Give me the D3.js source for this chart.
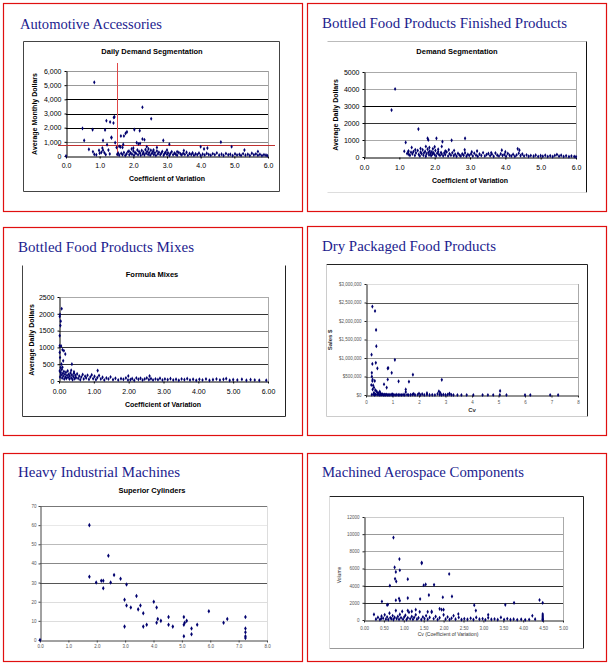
<!DOCTYPE html>
<html>
<head>
<meta charset="utf-8">
<script src="https://d3js.org/d3.v7.min.js"></script>
<style>
  body { margin: 0; background: #fff; }
  svg { display: block; }
</style>
</head>
<body>
<script>
// ---- data: [coefficient of variation, value] ----

var autoTitle = "Automotive Accessories";
var autoXTicks = [0, 1, 2, 3, 4, 5, 6];
var autoYTicks = [0, 1000, 2000, 3000, 4000, 5000, 6000];
var autoCvCut = 1.5;
var autoValueCut = 780;
var autoPoints = [
  [0.84,5200],[2.27,3440],[2.53,2630],[0.49,1950],[0.79,1860],[1.16,1840],[1.2,2490],[1.31,2400],
  [1.42,2720],[1.44,2760],[1.41,2330],[0.54,1100],[1.1,1100],[1.35,1320],[1.35,1280],[1.63,1410],
  [1.72,1410],[1.77,1600],[1.81,1700],[2.03,1860],[2.19,1790],[2.27,1200],[2.33,1150],[2.89,1100],
  [3.07,830],[4.6,980],[4.92,650],[1.46,940],[0.68,470],[0,0],[1.1,400],[1.08,560],[0.8,300],
  [0.84,120],[0.98,400],[1.05,260],[4.0,650],[4.1,500],[4.2,560],[2.1,940],[2.15,850],[2.2,880],
  [1.5,600],[1.22,800],[1.55,200],[1.62,640],[1.7,820],[1.95,500],[2.0,560],[1.26,420],[1.3,150],
  [0.9,80],[1.0,200],[1.14,230],[1.18,100],[1.87,340],[2.4,650],[2.45,500],[2.6,420],[2.7,600],
  [3.0,420],[3.5,380],[3.3,300],[5.3,420],[5.7,320],[1.68,600],[1.58,680]
];
var autoBand = [
  [1.52,120],[1.58,60],[1.64,180],[1.68,90],[1.72,240],[1.76,40],[1.8,150],[1.84,300],[1.88,80],
  [1.92,220],[1.96,130],[2.0,360],[2.02,60],[2.05,250],[2.08,170],[2.12,420],[2.14,90],[2.17,310],
  [2.2,200],[2.22,50],[2.25,380],[2.28,140],[2.3,260],[2.33,80],[2.36,450],[2.38,190],[2.41,320],
  [2.44,110],[2.47,240],[2.5,60],[2.52,400],[2.55,170],[2.58,290],[2.61,100],[2.64,230],[2.67,40],
  [2.7,350],[2.73,150],[2.76,260],[2.8,90],[2.83,200],[2.86,320],[2.9,60],[2.93,180],[2.96,260],
  [3.0,110],[3.03,220],[3.07,40],[3.1,170],[3.14,300],[3.18,90],[3.22,200],[3.26,130],[3.3,60],
  [3.35,240],[3.4,150],[3.44,80],[3.48,190],[3.53,110],[3.58,260],[3.62,50],[3.67,170],[3.72,100],
  [3.76,220],[3.8,60],[3.85,150],[3.9,90],[3.95,200],[4.0,40],[4.06,130],[4.12,70],[4.18,180],
  [4.24,100],[4.3,50],[4.36,160],[4.42,90],[4.48,210],[4.55,60],[4.62,130],[4.68,40],[4.75,170],
  [4.82,80],[4.88,120],[4.95,30],[5.02,150],[5.08,70],[5.15,110],[5.2,40],[5.26,160],[5.33,60],
  [5.4,120],[5.46,30],[5.52,190],[5.58,80],[5.64,140],[5.7,50],[5.76,110],[5.82,30],[5.88,90],
  [5.94,60],[5.98,20]
];

var finTitle = "Bottled Food Products Finished Products";
var finXTicks = [0, 1, 2, 3, 4, 5, 6];
var finYTicks = [0, 1000, 2000, 3000, 4000, 5000];
var finPoints = [
  [0.88,4000],[0.78,2760],[1.54,1640],[1.18,860],[1.8,1100],[1.82,1000],[2.05,1100],[2.22,900],
  [2.48,980],[2.86,1100],[4.35,480],[1.14,340],[1.25,300],[1.27,150],[3.9,400],[1.35,560],
  [1.45,420],[1.6,500],[1.75,620],[1.85,560],[1.95,480],[2.0,600],[2.1,450],[2.2,620],[2.3,350],
  [2.4,420],[2.55,380],[2.85,420],[3.05,300],[3.2,350],[3.6,250],[4.0,300],[4.4,400]
];
var finBand = [
  [1.22,200],[1.26,350],[1.3,100],[1.33,280],[1.37,180],[1.4,320],[1.44,90],[1.47,240],
  [1.52,380],[1.55,150],[1.58,60],[1.6,290],[1.63,200],[1.66,420],[1.68,110],[1.7,250],[1.73,330],
  [1.75,40],[1.77,180],[1.8,460],[1.82,260],[1.84,120],[1.86,350],[1.88,200],[1.9,80],[1.92,300],
  [1.94,170],[1.97,240],[2.0,130],[2.02,380],[2.04,60],[2.07,220],[2.1,310],[2.12,150],[2.15,90],
  [2.18,260],[2.2,180],[2.24,70],[2.27,240],[2.3,130],[2.34,300],[2.38,60],[2.42,190],[2.46,110],
  [2.5,250],[2.54,80],[2.58,160],[2.62,40],[2.66,210],[2.7,120],[2.74,60],[2.78,180],[2.82,100],
  [2.86,240],[2.9,50],[2.94,150],[2.98,90],[3.03,180],[3.08,60],[3.12,220],[3.17,110],[3.22,40],
  [3.27,170],[3.32,90],[3.37,250],[3.42,60],[3.47,140],[3.52,200],[3.57,80],[3.62,160],[3.67,40],
  [3.72,230],[3.77,110],[3.82,60],[3.87,180],[3.92,90],[3.97,140],[4.02,50],[4.07,200],[4.12,100],
  [4.17,60],[4.22,150],[4.27,40],[4.32,120],[4.38,220],[4.43,80],[4.48,170],[4.53,60],[4.6,120],
  [4.66,40],[4.72,90],[4.8,50],[4.86,110],[4.93,30],[5.0,80],[5.06,40],[5.13,100],[5.2,30],
  [5.27,70],[5.34,20],[5.4,90],[5.46,140],[5.52,50],[5.58,100],[5.65,30],[5.72,70],[5.8,20],
  [5.87,60],[5.95,30],[6.0,10]
];

var mixTitle = "Bottled Food Products Mixes";
var mixXTicks = [0, 1, 2, 3, 4, 5, 6];
var mixYTicks = [0, 500, 1000, 1500, 2000, 2500];
var mixPoints = [
  [0.077,2150],[0.03,1980],[0.02,1920],[0.05,1780],[0.04,1650],[0.02,1350],[0.02,1050],[0.06,1040],
  [0.1,930],[0.14,900],[0.18,800],[0.12,600],[0.07,500],[0.1,410],[0.37,500],[1.11,310],[0.35,320],
  [0.43,270],[1.99,150],[2.6,150],[0.02,850],[0.03,700],[0.05,400]
];
var mixBand = [
  [0.02,300],[0.03,120],[0.05,250],[0.06,180],[0.08,340],[0.09,90],[0.11,220],[0.12,150],[0.14,280],
  [0.15,60],[0.17,200],[0.18,120],[0.2,260],[0.21,80],[0.23,170],[0.25,300],[0.26,110],[0.28,200],
  [0.3,60],[0.31,150],[0.33,240],[0.35,90],[0.37,180],[0.39,40],[0.41,130],[0.43,220],[0.45,70],
  [0.47,160],[0.49,100],[0.52,210],[0.55,80],[0.58,150],[0.61,40],[0.64,120],[0.68,190],[0.71,60],
  [0.75,140],[0.78,90],[0.82,170],[0.86,50],[0.9,120],[0.94,180],[0.98,70],[1.02,140],[1.06,40],
  [1.1,100],[1.15,160],[1.2,60],[1.25,110],[1.3,30],[1.36,90],[1.42,60],[1.48,120],[1.55,40],
  [1.62,80],[1.7,30],[1.78,70],[1.85,50],[1.92,90],[1.98,30],[2.05,40],[2.1,70],[2.16,20],[2.22,90],
  [2.28,50],[2.34,80],[2.4,30],[2.46,60],[2.52,90],[2.58,40],[2.64,70],[2.7,30],[2.77,60],[2.84,40],
  [2.9,80],[2.97,30],[3.04,60],[3.12,40],[3.2,70],[3.28,30],[3.36,50],[3.44,20],[3.52,60],[3.6,40],
  [3.68,70],[3.76,30],[3.85,50],[3.94,20],[4.03,50],[4.12,30],[4.22,60],[4.32,20],[4.42,40],
  [4.52,60],[4.62,30],[4.72,50],[4.8,70],[4.9,20],[5.0,40],[5.12,30],[5.25,50],[5.38,20],[5.5,40],
  [5.62,30],[5.75,20],[5.95,20]
];

var dryTitle = "Dry Packaged Food Products";
var dryXTicks = [0, 1, 2, 3, 4, 5, 6, 7, 8];
var dryYTicks = [0, 500000, 1000000, 1500000, 2000000, 2500000, 3000000];
var dryPoints = [
  [0.24,2390000],[0.34,2270000],[0.38,1760000],[0.39,1320000],[0.21,1090000],[0.24,840000],
  [0.37,870000],[0.43,720000],[0.82,720000],[0.84,730000],[1.09,950000],[0.97,600000],[1.77,550000],
  [2.86,410000],[1.62,360000],[1.23,370000],[0.22,600000],[0.22,500000],[0.24,380000],[0.33,380000],
  [0.27,260000],[0.82,420000],[0.68,290000],[0.78,200000],[5.06,110000],[1.5,150000],[1.5,80000],
  [2.75,100000],[0.25,420000],[0.2,270000],[0.3,200000],[0.35,130000],[0.4,100000],[0.45,60000],
  [0.52,90000],[0.55,40000],[0.3,60000],[0.25,150000],[0.45,30000],[0.6,20000],[2.8,60000],
  [3.15,40000],[1.8,30000],[1.0,20000],[2.0,40000],[2.3,50000]
];
var dryBand = [
  [0.22,10000],[0.28,20000],[0.32,5000],[0.36,15000],[0.42,8000],[0.46,25000],[0.5,3000],[0.54,12000],
  [0.58,6000],[0.62,18000],[0.66,2000],[0.7,9000],[0.74,4000],[0.78,14000],[0.82,1000],[0.86,7000],
  [0.9,3000],[0.95,11000],[1.0,2000],[1.05,6000],[1.1,1000],[1.16,8000],[1.22,3000],[1.28,5000],
  [1.34,1000],[1.4,9000],[1.46,2000],[1.55,6000],[1.6,1000],[1.68,4000],[1.75,12000],[1.85,2000],
  [1.95,7000],[2.05,1000],[2.12,25000],[2.2,3000],[2.3,10000],[2.4,2000],[2.5,5000],[2.6,1000],
  [2.7,30000],[2.78,8000],[2.85,3000],[2.92,14000],[3.0,2000],[3.08,9000],[3.15,25000],[3.22,4000],
  [3.3,1000],[3.45,0],[3.6,0],[3.8,0],[4.05,0],[4.4,1000],[4.6,0],[4.8,0],[5.05,2000],[5.3,0],
  [6.0,0],[6.2,0],[6.95,0],[7.25,0]
];

var heavyTitle = "Heavy Industrial Machines";
var heavyXTicks = [0, 1, 2, 3, 4, 5, 6, 7, 8];
var heavyYTicks = [0, 10, 20, 30, 40, 50, 60, 70];
var heavyPoints = [
  [0,0],[1.74,60],[1.74,33],[1.98,30],[2.16,31],[2.23,31],[2.23,27],[2.41,44],[2.49,30],[2.61,34],
  [2.84,32],[3.05,29],[2.98,21],[2.98,7],[3.05,18],[3.2,17],[3.4,23],[3.46,16],[3.54,18],[3.64,14],
  [3.64,7],[3.76,8],[4.01,20],[4.11,17],[4.11,9],[4.15,11],[4.26,10],[4.53,12],[4.53,8],[4.68,7],
  [5.07,12],[5.07,8],[5.1,9],[5.17,10],[5.07,2],[5.34,6],[5.34,3],[5.54,8],[5.95,15],[6.47,9],
  [6.6,11],[7.24,12],[7.24,6],[7.24,4],[7.24,2],[7.24,1]
];

var aeroTitle = "Machined Aerospace Components";
var aeroXTicks = [0, 0.5, 1, 1.5, 2, 2.5, 3, 3.5, 4, 4.5, 5];
var aeroYTicks = [0, 2000, 4000, 6000, 8000, 10000, 12000];
var aeroPoints = [
  [0.74,9600],[0.89,7100],[1.45,6700],[1.45,6600],[0.77,6140],[0.8,5600],[0.9,5800],[0.78,4800],
  [0.81,4500],[0.65,4000],[1.1,4760],[2.14,5360],[1.5,4050],[1.55,4150],[1.76,4100],[2.21,2750],
  [1.98,2650],[1.63,2900],[1.41,2450],[1.1,2550],[0.8,2300],[0.88,2500],[0.9,2250],[0.45,2160],
  [0.58,1750],[0.6,1800],[2.77,1730],[2.81,1100],[3.55,1770],[3.77,2000],[4.41,2330],[4.49,2000],
  [0.25,650],[0.43,150],[3.12,600],[2.37,700],[4.23,500],[1.2,1000],[1.1,1100],[2.0,1200],
  [1.9,1300],[1.6,950],[1.7,900],[1.3,1200]
];
var aeroBand = [
  [0.3,100],[0.35,300],[0.4,50],[0.44,450],[0.48,200],[0.52,600],[0.55,100],[0.58,350],[0.61,50],
  [0.64,800],[0.66,250],[0.69,150],[0.72,500],[0.74,50],[0.77,300],[0.8,1100],[0.82,150],[0.85,400],
  [0.88,80],[0.9,650],[0.93,250],[0.96,1000],[0.98,100],[1.01,350],[1.04,550],[1.07,50],[1.1,250],
  [1.13,900],[1.16,150],[1.2,400],[1.23,80],[1.26,300],[1.3,600],[1.33,100],[1.37,250],[1.4,950],
  [1.44,50],[1.48,350],[1.52,150],[1.56,500],[1.6,80],[1.65,300],[1.7,1000],[1.75,150],[1.8,400],
  [1.85,50],[1.9,250],[1.95,1200],[2.0,600],[2.05,100],[2.1,350],[2.15,50],[2.2,200],[2.25,500],
  [2.3,100],[2.38,300],[2.45,50],[2.52,150],[2.6,80],[2.68,200],[2.75,50],[2.82,300],[2.9,100],
  [2.98,150],[3.05,30],[3.12,250],[3.2,80],[3.28,120],[3.36,40],[3.44,300],[3.52,60],[3.6,150],
  [3.68,40],[3.76,100],[3.85,30],[3.95,80],[4.05,20],[4.15,60],[4.3,100],[4.49,700],[4.49,550],
  [4.49,400],[4.49,250],[4.49,150],[4.49,50],[4.49,0]
];

// ---- drawing ----
var W = 609, H = 664;
var svg = d3.select("body").append("svg").attr("width", W).attr("height", H);
var SANS = "'Liberation Sans', Arial, sans-serif";
var SERIF = "'Liberation Serif', 'Times New Roman', serif";
var NAVY = "#00006e";

function drawPanel(c) {
    var g = svg.append("g");

    // red frame of the slide
    g.append("rect")
        .attr("x", c.frame[0] + 0.5).attr("y", c.frame[1] + 0.5)
        .attr("width", c.frame[2]).attr("height", c.frame[3])
        .attr("fill", "none").attr("stroke", "#e01010").attr("stroke-width", 1.2);

    g.append("text")
        .attr("x", c.titleXY[0]).attr("y", c.titleXY[1])
        .attr("textLength", c.titleLen).attr("lengthAdjust", "spacingAndGlyphs")
        .style("font-family", SERIF).style("font-size", "15px")
        .style("fill", "#1c1c8e")
        .text(c.title);

    // chart box, each edge its own tone
    if (c.box) {
        var b = c.box, x0 = b.x + 0.5, y0 = b.y + 0.5, x1 = b.x + b.w + 0.5, y1 = b.y + b.h + 0.5;
        var edges = [[x0, y0, x1, y0, b.t], [x1, y0, x1, y1, b.r], [x0, y1, x1, y1, b.b], [x0, y0, x0, y1, b.l]];
        edges.forEach(function(e) {
            if (!e[4]) return;
            g.append("line").attr("x1", e[0]).attr("y1", e[1]).attr("x2", e[2]).attr("y2", e[3])
                .attr("stroke", e[4]).attr("stroke-width", 1);
        });
    }

    if (c.chartTitle) {
        g.append("text")
            .attr("x", c.chartTitleXY[0]).attr("y", c.chartTitleXY[1])
            .attr("text-anchor", "middle")
            .style("font-family", SANS).style("font-size", "7.5px").style("font-weight", "bold")
            .text(c.chartTitle);
    }

    var p = c.plot;
    var x = d3.scaleLinear().domain(c.xDomain).range([p.x, p.x + p.w]);
    var y = d3.scaleLinear().domain(c.yDomain).range([p.y + p.h, p.y]);

    // gridlines
    g.selectAll(".grid").data(c.yTicks.filter(function(v) { return v > 0; }))
        .enter().append("line")
        .attr("x1", p.x).attr("x2", p.x + p.w)
        .attr("y1", function(d) { return Math.round(y(d)) + 0.5; })
        .attr("y2", function(d) { return Math.round(y(d)) + 0.5; })
        .attr("stroke", function(d) { return c.grid[d] || "#999"; })
        .attr("stroke-width", 1);

    // right edge of plot area
    g.append("line")
        .attr("x1", p.x + p.w + 0.5).attr("x2", p.x + p.w + 0.5)
        .attr("y1", p.y).attr("y2", p.y + p.h)
        .attr("stroke", c.plotEdge || "#aaa");

    var yAxis = g.append("g")
        .attr("transform", "translate(" + (Math.round(p.x) + 0.5) + ",0)")
        .call(d3.axisLeft(y).tickValues(c.yTicks).tickFormat(c.yFormat)
            .tickSize(2).tickSizeOuter(0).tickPadding(c.yPad || 3));
    var xAxis = g.append("g")
        .attr("transform", "translate(0," + (Math.round(p.y + p.h) + 0.5) + ")")
        .call(d3.axisBottom(x).tickValues(c.xTicks).tickFormat(c.xFormat)
            .tickSize(2).tickSizeOuter(0).tickPadding(c.xPad));

    [yAxis, xAxis].forEach(function(a) {
        a.select(".domain").attr("stroke", c.axisColor || "#000");
        a.selectAll(".tick line").attr("stroke", c.axisColor || "#000");
        a.selectAll("text")
            .style("font-family", SANS).style("font-size", c.tickFont)
            .style("fill", c.tickColor || "#000");
    });

    if (c.xTitle) {
        g.append("text")
            .attr("x", c.xTitleXY[0]).attr("y", c.xTitleXY[1])
            .attr("text-anchor", "middle")
            .style("font-family", SANS).style("font-size", c.axisTitleFont)
            .style("font-weight", c.axisTitleWeight || "bold")
            .style("fill", c.axisTitleColor || "#000")
            .text(c.xTitle);
    }
    if (c.yTitle) {
        g.append("text")
            .attr("transform", "translate(" + c.yTitleXY[0] + "," + c.yTitleXY[1] + ") rotate(-90)")
            .attr("text-anchor", "middle")
            .style("font-family", SANS).style("font-size", c.axisTitleFont)
            .style("font-weight", c.axisTitleWeight || "bold")
            .style("fill", c.axisTitleColor || "#000")
            .text(c.yTitle);
    }

    if (c.extra) c.extra(g, x, y);

    var sym = d3.symbol().type(d3.symbolDiamond).size(c.markSize || 5);
    g.selectAll(".pt").data(c.points)
        .enter().append("path")
        .attr("d", sym)
        .attr("transform", function(d) { return "translate(" + x(d[0]) + "," + y(d[1]) + ")"; })
        .attr("fill", NAVY);
}

// Automotive Accessories
drawPanel({
    frame: [3, 3, 299, 208], title: autoTitle, titleXY: [20, 29], titleLen: 142,
    box: {x: 23, y: 41, w: 256, h: 150, t: "#444", r: "#444", b: "#444", l: "#444"},
    chartTitle: "Daily Demand Segmentation", chartTitleXY: [152, 54],
    plot: {x: 66, y: 71, w: 202, h: 85},
    xDomain: [0, 6], yDomain: [0, 6000], xTicks: autoXTicks, yTicks: autoYTicks,
    xFormat: d3.format(".1f"), yFormat: d3.format(","), xPad: 5, yPad: 3,
    grid: {6000: "#999", 5000: "#999", 4000: "#000", 3000: "#000", 2000: "#000", 1000: "#888"},
    tickFont: "7px", axisTitleFont: "7px",
    xTitle: "Coefficient of Variation", xTitleXY: [167, 181],
    yTitle: "Average Monthly Dollars", yTitleXY: [37, 114],
    points: autoPoints.concat(autoBand),
    extra: function(g, x, y) {
        g.append("line")
            .attr("x1", Math.round(x(autoCvCut)) + 0.5).attr("x2", Math.round(x(autoCvCut)) + 0.5)
            .attr("y1", 63).attr("y2", y(0))
            .attr("stroke", "#e04848").attr("stroke-width", 1);
        g.append("line")
            .attr("x1", 58).attr("x2", 275)
            .attr("y1", Math.round(y(autoValueCut)) + 0.5).attr("y2", Math.round(y(autoValueCut)) + 0.5)
            .attr("stroke", "#c03030").attr("stroke-width", 1);
    }
});

// Bottled Food Products Finished Products
drawPanel({
    frame: [307, 3, 299, 208], title: finTitle, titleXY: [322, 28], titleLen: 245,
    box: {x: 327, y: 41, w: 259, h: 151, t: "#bbb", r: "#111", b: "#ddd", l: null},
    chartTitle: "Demand Segmentation", chartTitleXY: [457, 54],
    plot: {x: 364, y: 72, w: 212, h: 85},
    xDomain: [0, 6], yDomain: [0, 5000], xTicks: finXTicks, yTicks: finYTicks,
    xFormat: d3.format(".1f"), yFormat: d3.format("d"), xPad: 6, yPad: 3,
    grid: {5000: "#aaa", 4000: "#aaa", 3000: "#000", 2000: "#333", 1000: "#aaa"},
    tickFont: "7px", axisTitleFont: "7px",
    xTitle: "Coefficient of Variation", xTitleXY: [470, 183],
    yTitle: "Average Daily Dollars", yTitleXY: [338, 115],
    points: finPoints.concat(finBand)
});

// Bottled Food Products Mixes
drawPanel({
    frame: [3, 227, 299, 208], title: mixTitle, titleXY: [18, 252], titleLen: 176,
    box: {x: 22, y: 265, w: 263, h: 151, t: null, r: "#222", b: "#333", l: "#444"},
    chartTitle: "Formula Mixes", chartTitleXY: [152, 277],
    plot: {x: 59, y: 297, w: 209, h: 84},
    xDomain: [0, 6], yDomain: [0, 2500], xTicks: mixXTicks, yTicks: mixYTicks,
    xFormat: d3.format(".2f"), yFormat: d3.format("d"), xPad: 6, yPad: 3,
    grid: {2500: "#aaa", 2000: "#333", 1500: "#777", 1000: "#333", 500: "#333"},
    tickFont: "7px", axisTitleFont: "7px",
    xTitle: "Coefficient of Variation", xTitleXY: [163, 407],
    yTitle: "Average Daily Dollars", yTitleXY: [34, 340],
    points: mixPoints.concat(mixBand)
});

// Dry Packaged Food Products
drawPanel({
    frame: [307, 226, 299, 209], title: dryTitle, titleXY: [322, 251], titleLen: 174,
    box: {x: 326, y: 264, w: 261, h: 152, t: "#222", r: "#222", b: "#ccc", l: "#ccc"},
    plot: {x: 366, y: 284, w: 212, h: 111},
    xDomain: [0, 8], yDomain: [0, 3000000], xTicks: dryXTicks, yTicks: dryYTicks,
    xFormat: d3.format("d"), yFormat: function(v) { return "$" + d3.format(",")(v); },
    xPad: 3, yPad: 3,
    grid: {3000000: "#ddd", 2500000: "#555", 2000000: "#ddd", 1500000: "#ddd", 1000000: "#999", 500000: "#888"},
    tickFont: "4.5px", tickColor: "#555", axisColor: "#222", axisTitleFont: "6px",
    xTitle: "Cv", xTitleXY: [472, 412], axisTitleColor: "#333",
    yTitle: "Sales $", yTitleXY: [332, 340],
    points: dryPoints.concat(dryBand)
});

// Heavy Industrial Machines
drawPanel({
    frame: [3, 453, 299, 208], title: heavyTitle, titleXY: [18, 477], titleLen: 162,
    chartTitle: "Superior Cylinders", chartTitleXY: [152, 493],
    plot: {x: 40, y: 506, w: 227, h: 134},
    xDomain: [0, 8], yDomain: [0, 70], xTicks: heavyXTicks, yTicks: heavyYTicks,
    xFormat: d3.format(".1f"), yFormat: d3.format("d"), xPad: 2, yPad: 2,
    grid: {70: "#777", 60: "#e8e8e8", 50: "#bbb", 40: "#888", 30: "#555", 20: "#ddd", 10: "#ddd"},
    plotEdge: "#ddd",
    tickFont: "4.5px", tickColor: "#555", axisColor: "#444",
    points: heavyPoints, markSize: 6
});

// Machined Aerospace Components
drawPanel({
    frame: [307, 453, 299, 208], title: aeroTitle, titleXY: [322, 477], titleLen: 202,
    box: {x: 329, y: 496, w: 254, h: 152, t: "#222", r: "#222", b: "#999", l: "#ddd"},
    plot: {x: 364, y: 517, w: 199, h: 103},
    xDomain: [0, 5], yDomain: [0, 12000], xTicks: aeroXTicks, yTicks: aeroYTicks,
    xFormat: d3.format(".2f"), yFormat: d3.format("d"), xPad: 4, yPad: 3,
    grid: {12000: "#ccc", 10000: "#999", 8000: "#aaa", 6000: "#999", 4000: "#333", 2000: "#333"},
    tickFont: "4.5px", tickColor: "#555", axisColor: "#222", axisTitleFont: "5px",
    axisTitleWeight: "normal", axisTitleColor: "#333",
    xTitle: "Cv (Coefficient of Variation)", xTitleXY: [448, 636],
    yTitle: "Volume", yTitleXY: [341, 575],
    points: aeroPoints.concat(aeroBand)
});
</script>
</body>
</html>
